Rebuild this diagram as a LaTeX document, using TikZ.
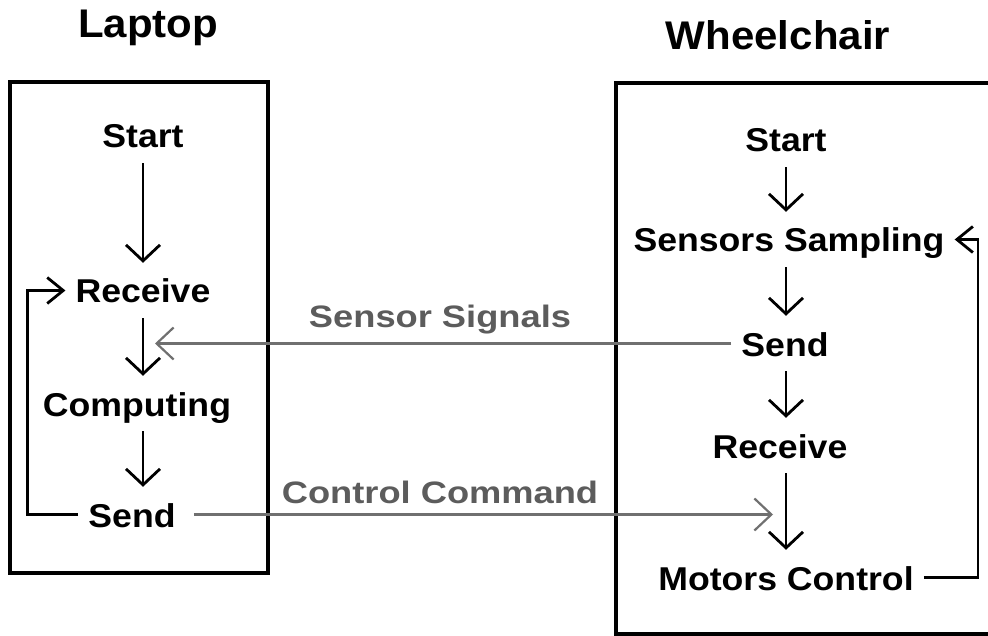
\documentclass[tikz,border=0pt]{standalone}
\usepackage{fontspec}
\usepackage{xcolor}
\usetikzlibrary{arrows.meta}
\setmainfont{Liberation Sans}
\newfontfamily\stagefont[FakeStretch=1.08]{Liberation Sans}
\newfontfamily\titlefont[FakeStretch=1.05]{Liberation Sans}
\newfontfamily\labelfont[FakeStretch=1.17]{Liberation Sans}
\definecolor{linkgray}{HTML}{707070}
\definecolor{textgray}{HTML}{5C5C5C}

\begin{document}
\begin{tikzpicture}[
  x=1pt, y=-1pt,
  frame/.style={draw, line width=3.2pt},
  stage/.style={anchor=base, inner xsep=10pt, inner ysep=10pt, text height=30pt, text depth=5pt,
    font=\stagefont\bfseries\fontsize{33}{38}\selectfont},
  title/.style={anchor=base, font=\titlefont\bfseries\fontsize{40}{46}\selectfont},
  linklabel/.style={anchor=base, text=textgray, font=\labelfont\bfseries\fontsize{31}{36}\selectfont},
  flow/.style={line width=2.8pt, -{Straight Barb[length=16pt,width=34pt,line width=2.8pt]}},
  loop/.style={line width=2.8pt, -{Straight Barb[length=16pt,width=26pt,line width=2.8pt]}},
  link/.style={draw=linkgray, line width=2.2pt, -{Straight Barb[length=17pt,width=32pt,line width=2.2pt]}}
]
  \clip (0,0) rectangle (988,636);
  \fill[white] (0,0) rectangle (988,636);
  % the two sides
  \draw[frame] (10,82) rectangle (268,573);
  \draw[frame] (616,83) rectangle (1010,634);
  \node[title] (laptop) at (148,38) {Laptop};
  \node[title] (chair) at (778,50) {Wheelchair};
  % laptop steps
  \node[stage] (lstart) at (143,148) {Start};
  \node[stage] (lrecv) at (143,303) {Receive};
  \node[stage] (lcomp) at (137,416) {Computing};
  \node[stage] (lsend) at (132,527) {Send};
  \draw[flow] (lstart.south) -- (lrecv.north);
  \draw[flow] (lrecv.south) -- (lcomp.north -| lrecv);
  \draw[flow] (lcomp.south -| lrecv) -- (lsend.north -| lrecv);
  \draw[loop] (lsend.west) -- ++(-51,0) |- (lrecv.west);
  % wheelchair steps
  \node[stage] (rstart) at (786,152) {Start};
  \node[stage] (rsamp) at (789,252) {Sensors Sampling};
  \node[stage] (rsend) at (785,356) {Send};
  \node[stage] (rrecv) at (780,458) {Receive};
  \node[stage] (rmotor) at (786,590) {Motors Control};
  \draw[flow] (rstart.south) -- (rsamp.north -| rstart);
  \draw[flow] (rsamp.south -| rstart) -- (rsend.north -| rstart);
  \draw[flow] (rsend.south -| rstart) -- (rrecv.north -| rstart);
  \draw[flow] (rrecv.south -| rstart) -- (rmotor.north -| rstart);
  \draw[loop] (rmotor.east) -- ++(54,0) |- (rsamp.east);
  % links between the sides
  \coordinate (sigin) at (155,340);
  \coordinate (cmdin) at (773,517);
  \draw[link] (rsend.west) -- (rsend.west -| sigin);
  \draw[link] ([xshift=8pt]lsend.east) -- (lsend.east -| cmdin);
  \node[linklabel] (siglabel) at (440,327) {Sensor Signals};
  \node[linklabel] (cmdlabel) at (440,503) {Control Command};
\end{tikzpicture}
\end{document}
